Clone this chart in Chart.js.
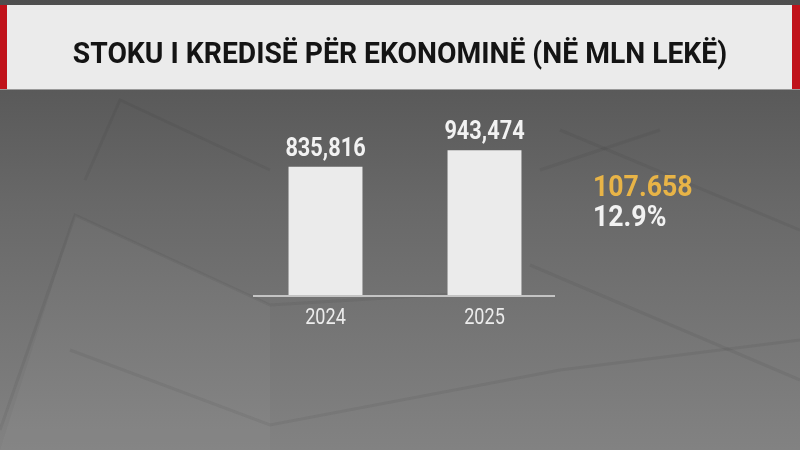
<!DOCTYPE html>
<html>
<head>
<meta charset="utf-8">
<script src="https://cdn.jsdelivr.net/npm/chart.js@4.4.1/dist/chart.umd.min.js"></script>
<style>
  html, body { margin: 0; padding: 0; background: #5a5a5a; }
  #wrap { position: relative; width: 800px; height: 450px; }
</style>
</head>
<body>
<div id="wrap"><canvas id="chart" width="800" height="450"></canvas></div>
<script>
// ===== Data =====
const title = 'STOKU I KREDISË PËR EKONOMINË (NË MLN LEKË)';
const years = ['2024', '2025'];
const creditStock = [835816, 943474];
const changeLabels = ['107.658', '12.9%'];

// draw text squeezed horizontally (condensed look with regular Roboto)
function squeezedText(ctx, text, x, y, font, color, align, squeeze) {
  ctx.save();
  ctx.font = font;
  ctx.fillStyle = color;
  ctx.textBaseline = 'alphabetic';
  const w = ctx.measureText(text).width * squeeze;
  let left = x;
  if (align === 'center') left = x - w / 2;
  ctx.translate(left, y);
  ctx.scale(squeeze, 1);
  ctx.textAlign = 'left';
  ctx.fillText(text, 0, 0);
  ctx.restore();
}

// ===== Background + title bar =====
const backdrop = {
  id: 'backdrop',
  beforeDraw(chart) {
    const { ctx, width, height } = chart;
    ctx.save();
    const g = ctx.createLinearGradient(0, 0, 0, height);
    g.addColorStop(0, '#4e4e4e');
    g.addColorStop(0.45, '#686868');
    g.addColorStop(1, '#828282');
    ctx.fillStyle = g;
    ctx.fillRect(0, 0, width, height);

    // faint architectural shapes
    ctx.strokeStyle = 'rgba(40,40,40,0.08)';
    ctx.lineWidth = 3;
    const lines = [
      [[85, 180], [120, 100], [270, 170]],
      [[0, 430], [75, 215], [270, 305], [520, 290]],
      [[70, 350], [270, 425], [560, 370], [800, 340]],
      [[560, 130], [800, 230]],
      [[530, 265], [800, 380]],
      [[540, 170], [660, 130]]
    ];
    lines.forEach(pts => {
      ctx.beginPath();
      ctx.moveTo(pts[0][0], pts[0][1]);
      pts.slice(1).forEach(p => ctx.lineTo(p[0], p[1]));
      ctx.stroke();
    });
    ctx.fillStyle = 'rgba(255,255,255,0.03)';
    ctx.beginPath();
    ctx.moveTo(0, 450); ctx.lineTo(75, 215); ctx.lineTo(270, 305); ctx.lineTo(270, 450);
    ctx.closePath(); ctx.fill();

    // title bar
    ctx.fillStyle = '#ebebeb';
    ctx.fillRect(0, 5, width, 85);
    ctx.fillStyle = '#c0121a';
    ctx.fillRect(0, 5, 7, 85);
    ctx.fillRect(width - 8, 5, 8, 85);
    ctx.fillStyle = '#9a9a9a';
    ctx.fillRect(0, 89, width, 1);
    squeezedText(ctx, title, width / 2, 63, 'bold 29px Roboto', '#141414', 'center', 0.975);
    ctx.restore();
  }
};

// ===== Labels, baseline, change =====
const labels = {
  id: 'labels',
  afterDatasetsDraw(chart) {
    const { ctx } = chart;
    const x = chart.scales.x;
    const y = chart.scales.y;
    ctx.save();
    // baseline
    ctx.fillStyle = '#c4c4c4';
    ctx.fillRect(253, y.getPixelForValue(0), 302, 2);

    const meta = chart.getDatasetMeta(0);
    meta.data.forEach((bar, i) => {
      squeezedText(ctx, creditStock[i].toLocaleString('en-US'), bar.x, bar.y - 11,
        'bold 25px Roboto', '#f2f2f2', 'center', 0.87);
      squeezedText(ctx, years[i], x.getPixelForValue(i), y.getPixelForValue(0) + 29,
        '22px Roboto', '#ececec', 'center', 0.82);
    });

    // change annotation
    squeezedText(ctx, changeLabels[0], 593, 196, 'bold 29px Roboto', '#e8b447', 'left', 0.92);
    squeezedText(ctx, changeLabels[1], 593, 226, 'bold 29px Roboto', '#f2f2f2', 'left', 0.92);
    ctx.restore();
  }
};

new Chart(document.getElementById('chart'), {
  type: 'bar',
  data: {
    labels: years,
    datasets: [{
      data: creditStock,
      backgroundColor: '#ebebeb',
      borderWidth: 0,
      barPercentage: 0.93,
      categoryPercentage: 0.5
    }]
  },
  options: {
    responsive: false,
    animation: false,
    layout: { padding: { left: 246, right: 236, top: 111, bottom: 155 } },
    plugins: { legend: { display: false }, tooltip: { enabled: false } },
    scales: {
      x: { display: false },
      y: { display: false, min: 0, max: 1200000 }
    }
  },
  plugins: [backdrop, labels]
});
</script>
</body>
</html>
